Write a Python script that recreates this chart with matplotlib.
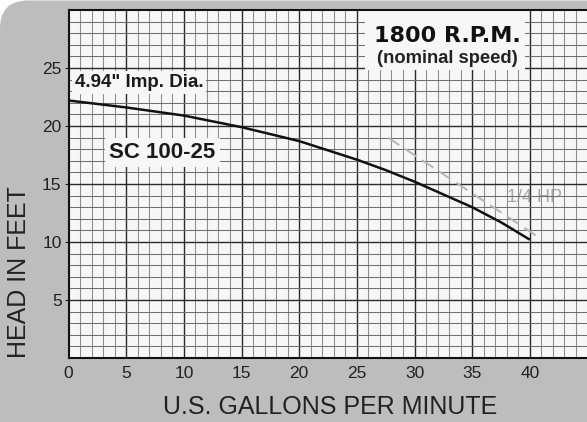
import matplotlib
matplotlib.use("Agg")
import matplotlib.pyplot as plt
from matplotlib.patches import FancyBboxPatch, Rectangle

# Data
gpm = [0, 5, 10, 15, 20, 25, 27.5, 30, 32.5, 35, 37.5, 40]
head = [22.2, 21.6, 20.9, 19.9, 18.7, 17.1, 16.2, 15.2, 14.1, 13.0, 11.7, 10.2]
hp_x = [27.7, 40.85]
hp_y = [19.0, 10.35]
xticks = [0, 5, 10, 15, 20, 25, 30, 35, 40]
yticks = [5, 10, 15, 20, 25]
xlabels = ["0", "5", "10", "15", "20", "25", "30", "35", "40"]
ylabels = ["5", "10", "15", "20", "25"]

W, H = 587, 422
fig = plt.figure(figsize=(W / 100, H / 100), dpi=100)
fig.patch.set_facecolor("white")
bg = "#bdbdbd"
# gray background with rounded top-left corner
fig.patches.append(FancyBboxPatch((0, -60), W + 60, H + 60 - 0.5,
                                  boxstyle="round,pad=0,rounding_size=28",
                                  transform=None, facecolor=bg, edgecolor="none",
                                  zorder=-10))

left, right = 68.5, 587.5
bottom, top = 358, 10
ax = fig.add_axes([left / W, 1 - bottom / H, (right - left) / W, (bottom - top) / H])
ax.set_facecolor("#f7f7f7")
ax.set_xlim(0, 45)
ax.set_ylim(0, 30)

# grid
for v in range(1, 45):
    major = v % 5 == 0
    ax.axvline(v, color="#2a2a2a" if major else "#8c8c8c",
               lw=1.0 if major else 0.75, zorder=1)
for v in range(1, 30):
    major = v % 5 == 0
    ax.axhline(v, color="#2a2a2a" if major else "#6e6e6e",
               lw=1.0 if major else 0.75, zorder=1)

ax.plot(gpm, head, color="#111111", lw=1.8, zorder=4,
        solid_capstyle="butt", solid_joinstyle="round")
ax.plot(hp_x, hp_y, color="#b5b5b5", lw=1.4, ls=(0, (7, 3.5)), zorder=3)

fam = "Liberation Sans"
ax.text(40.4, 13.8, "1/4 HP", color="#a8a8a8", fontsize=13, family=fam,
        ha="center", va="center", zorder=0.5)

box = dict(facecolor="#f7f7f7", edgecolor="none", pad=2)
ax.text(0.55, 23.75, "4.94\" Imp. Dia.", fontsize=13.5, fontweight="bold",
        family=fam, ha="left", va="center", color="#1a1a1a", bbox=box, zorder=5)
ax.text(3.55, 17.7, "SC 100-25", fontsize=16, fontweight="bold",
        family=fam, ha="left", va="center", color="#1a1a1a",
        bbox=dict(facecolor="#f7f7f7", edgecolor="none", pad=3), zorder=5)

# title box
ax.add_patch(Rectangle((25.7, 24.8), 13.9, 5.2, facecolor="#f7f7f7",
                       edgecolor="none", zorder=2))
ax.text(32.85, 27.8, "1800 R.P.M.", fontsize=16, fontweight="bold",
        family="DejaVu Sans", ha="center", va="center", color="#111111", zorder=5)
ax.text(32.85, 25.85, "(nominal speed)", fontsize=13.2, fontweight="bold",
        family=fam, ha="center", va="center", color="#222222", zorder=5)

for s in ["left", "bottom", "top"]:
    ax.spines[s].set_color("#111111")
    ax.spines[s].set_linewidth(1.5)
ax.spines["right"].set_visible(False)

ax.set_xticks(xticks)
ax.set_xticklabels(xlabels, family=fam, fontsize=12.5, color="#222222")
ax.set_yticks(yticks)
ax.set_yticklabels(ylabels, family=fam, fontsize=12.5, color="#222222")
ax.tick_params(axis="x", length=0, pad=6)
ax.tick_params(axis="y", length=3, pad=2, color="#222222")

fig.text(19 / W, 1 - 272 / H, "HEAD IN FEET", rotation=90, fontsize=18,
         family=fam, ha="center", va="center", color="#222222")
fig.text(330 / W, 1 - 407 / H, "U.S. GALLONS PER MINUTE", fontsize=18,
         family=fam, ha="center", va="center", color="#222222")

fig.savefig("out.png", dpi=100, facecolor=fig.get_facecolor())
